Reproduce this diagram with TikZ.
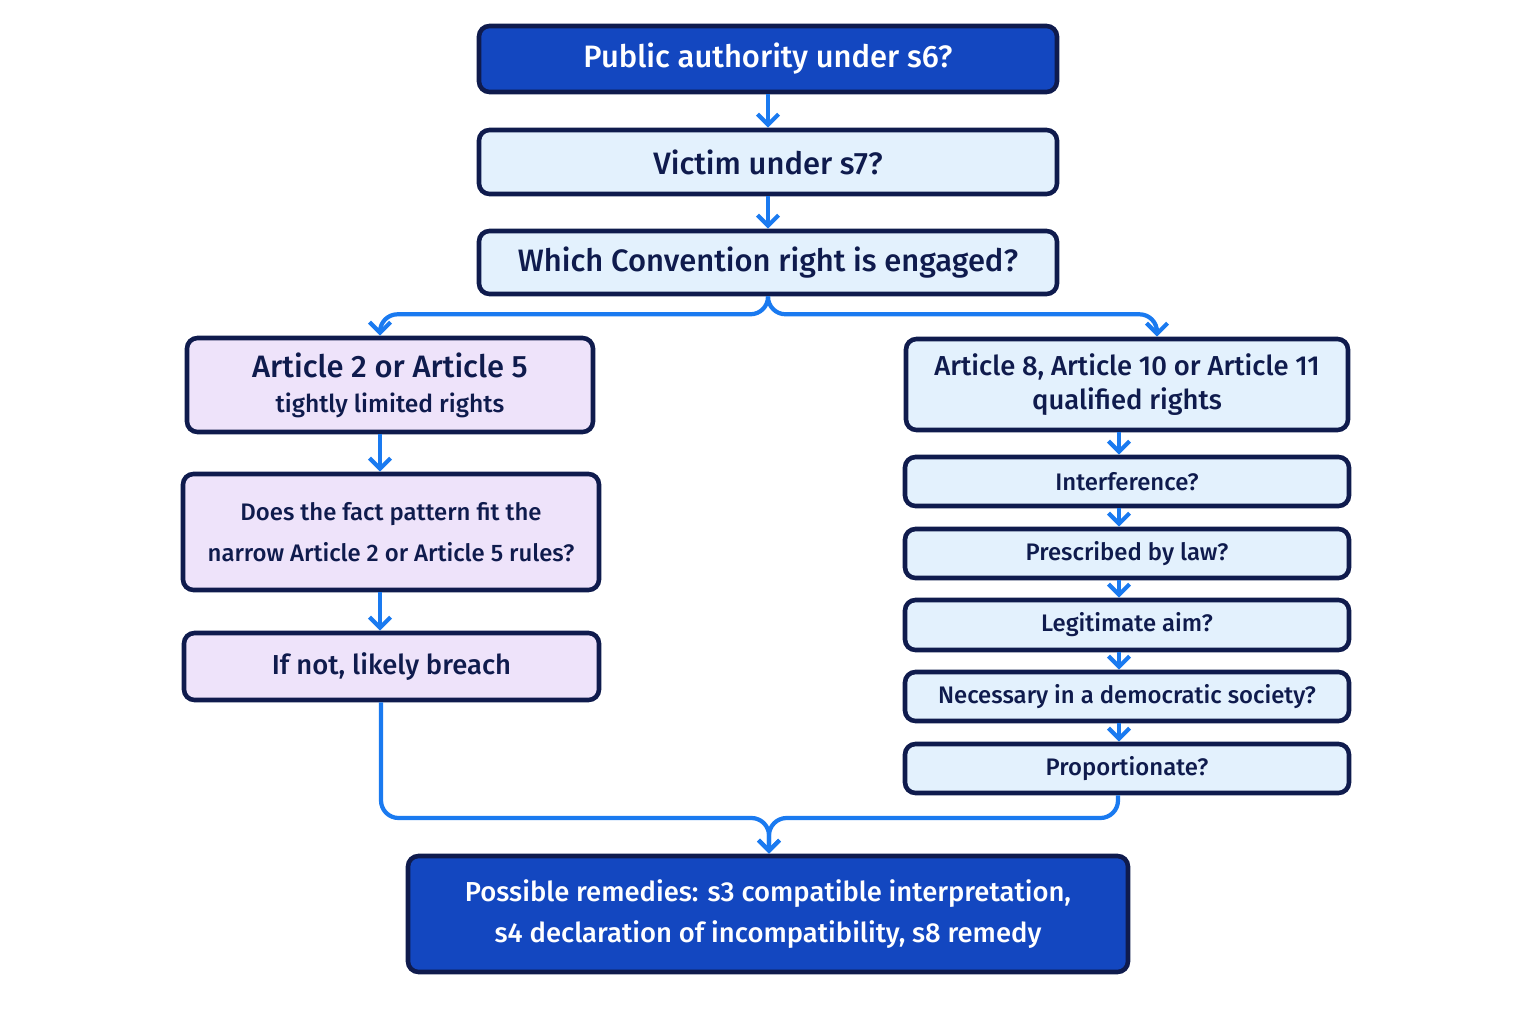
\documentclass[tikz,border=0pt]{standalone}
\usepackage{fontspec}
\setmainfont{Fira Sans Medium}
\usetikzlibrary{arrows.meta}
\definecolor{dk}{HTML}{1347C0}
\definecolor{lb}{HTML}{E3F1FD}
\definecolor{lv}{HTML}{EEE3FA}
\definecolor{ln}{HTML}{0F1B4D}
\definecolor{ar}{HTML}{1A7AF0}
\begin{document}
\begin{tikzpicture}[x=0.01cm,y=-0.01cm,
 box/.style={draw=ln,line width=1.3pt,rounded corners=3pt,inner sep=0pt,align=center,text=ln},
 dark/.style={box,fill=dk,text=white},
 blue/.style={box,fill=lb},
 lav/.style={box,fill=lv},
 big/.style={font=\fontsize{8.8}{11}\selectfont},
 mid/.style={font=\fontsize{7.8}{11.5}\selectfont},
 sm/.style={font=\fontsize{6.8}{11.5}\selectfont},
 con/.style={draw=ar,line width=1.2pt,-{Straight Barb[length=3pt,width=6pt]},rounded corners=5pt}]
\useasboundingbox (0,0) rectangle (1536,1024);
\newcommand{\bx}[7]{\node[#1,#2,minimum width={(#5-#3)*0.01cm},minimum height={(#6-#4)*0.01cm}] (#7) at ({(#3+#5)/2},{(#4+#6)/2})}
\bx{dark}{big}{479}{26}{1057}{92}{a} {Public authority under s6?};
\bx{blue}{big}{479}{130}{1057}{194}{b} {Victim under s7?};
\bx{blue}{big}{479}{231}{1057}{294}{c} {Which Convention right is engaged?};
\bx{lav}{big}{187}{338}{593}{432}{l1} {Article 2 or Article 5\\[-1pt]{\fontsize{7}{9}\selectfont tightly limited rights}};
\bx{lav}{sm}{183}{474}{599}{590}{l2} {Does the fact pattern fit the\\narrow Article 2 or Article 5 rules?};
\bx{lav}{mid}{184}{633}{599}{700}{l3} {If not, likely breach};
\bx{blue}{mid}{906}{339}{1348}{430}{r1} {Article 8, Article 10 or Article 11\\[-2pt]qualified rights};
\bx{blue}{sm}{905}{457}{1349}{506}{r2} {Interference?};
\bx{blue}{sm}{905}{529}{1349}{578}{r3} {Prescribed by law?};
\bx{blue}{sm}{905}{600}{1349}{650}{r4} {Legitimate aim?};
\bx{blue}{sm}{905}{672}{1349}{721}{r5} {Necessary in a democratic society?};
\bx{blue}{sm}{905}{744}{1349}{793}{r6} {Proportionate?};
\bx{dark}{mid}{408}{856}{1128}{972}{e} {Possible remedies: s3 compatible interpretation,\\s4 declaration of incompatibility, s8 remedy};
\draw[con] (a) -- (b);
\draw[con] (b) -- (c);
\draw[con] (c.south) -- ++(0,18) -| (l1.north -| 380,0);
\draw[con] (c.south) -- ++(0,18) -| (r1.north -| 1157,0);
\draw[con] (l1.south -| 380,0) -- (l2.north -| 380,0);
\draw[con] (l2.south -| 380,0) -- (l3.north -| 380,0);
\draw[con] (r1.south -| 1119,0) -- (r2.north -| 1119,0);
\draw[con] (r2.south -| 1119,0) -- (r3.north -| 1119,0);
\draw[con] (r3.south -| 1119,0) -- (r4.north -| 1119,0);
\draw[con] (r4.south -| 1119,0) -- (r5.north -| 1119,0);
\draw[con] (r5.south -| 1119,0) -- (r6.north -| 1119,0);
\draw[con] (l3.south -| 381,0) -- (381,818) -| (e.north -| 769,0);
\draw[con] (r6.south -| 1118,0) -- (1118,818) -| (e.north -| 769,0);
\end{tikzpicture}
\end{document}
